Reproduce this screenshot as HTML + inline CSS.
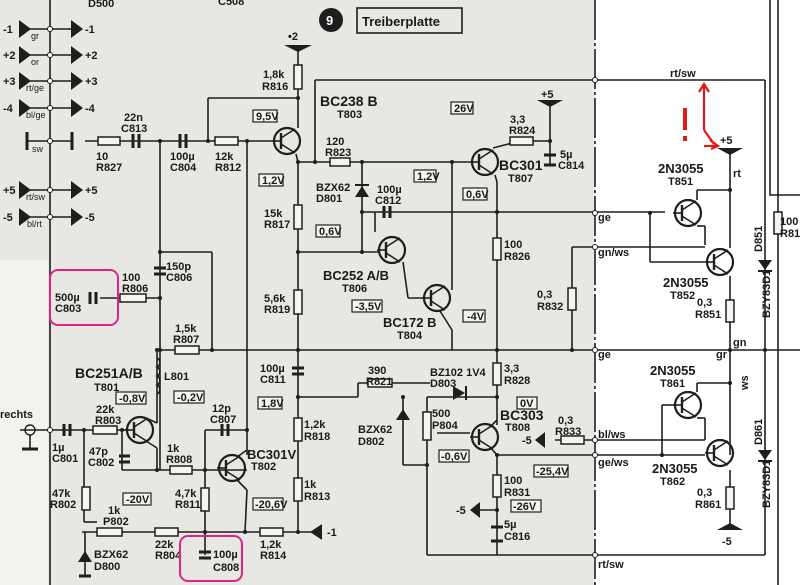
<!DOCTYPE html>
<html><head><meta charset="utf-8"><style>
html,body{margin:0;padding:0;background:#fff}
svg{display:block}
text{font-family:"Liberation Sans",sans-serif;font-weight:bold;fill:#1a1a1a;font-size:11px}
.s{font-size:9px;font-weight:normal}
.w{stroke:#1e1e1e;stroke-width:1.6;fill:none}
.r{stroke:#1e1e1e;stroke-width:1.5;fill:#f4f4f0}
.b{stroke:#1e1e1e;stroke-width:1.2;fill:#f4f4f0}
</style></head><body>
<svg width="800" height="585" viewBox="0 0 800 585">
<defs>
<g id="tr"><circle r="13" fill="none" stroke="#1e1e1e" stroke-width="2.2"/><line x1="-6" y1="-8" x2="-6" y2="8" stroke="#1e1e1e" stroke-width="2.4"/><line x1="-15" y1="0" x2="-6" y2="0" stroke="#1e1e1e" stroke-width="1.6"/><line x1="-6" y1="-3" x2="8" y2="-12" stroke="#1e1e1e" stroke-width="1.6"/><line x1="-6" y1="3" x2="8" y2="12" stroke="#1e1e1e" stroke-width="1.6"/></g>
<g id="arL"><polygon points="0,-9 0,9 12,0" fill="#1e1e1e"/></g>
</defs>
<rect width="800" height="585" fill="#fff"/>
<rect x="0" y="0" width="595" height="585" fill="#e7e7e3"/>
<rect x="0" y="260" width="48" height="325" fill="#f2f2ef"/>
<line x1="595" y1="0" x2="595" y2="585" stroke="#1e1e1e" stroke-width="1.6" stroke-dasharray="40 3 3 3"/>
<line x1="778" y1="0" x2="778" y2="585" class="w"/>
<polyline points="770,0 770,195 800,195" class="w"/>
<line x1="50" y1="0" x2="50" y2="585" class="w"/>
<g class="w">
<line x1="30" y1="29" x2="72" y2="29"/><line x1="30" y1="55" x2="72" y2="55"/><line x1="30" y1="81" x2="72" y2="81"/><line x1="30" y1="108" x2="72" y2="108"/>
<line x1="30" y1="190" x2="72" y2="190"/><line x1="30" y1="217" x2="72" y2="217"/>
<line x1="27" y1="141" x2="72" y2="141"/>
</g>
<use href="#arL" x="19" y="29"/><use href="#arL" x="19" y="55"/><use href="#arL" x="19" y="81"/><use href="#arL" x="19" y="108"/><use href="#arL" x="19" y="190"/><use href="#arL" x="19" y="217"/>
<use href="#arL" x="71" y="29"/><use href="#arL" x="71" y="55"/><use href="#arL" x="71" y="81"/><use href="#arL" x="71" y="108"/><use href="#arL" x="71" y="190"/><use href="#arL" x="71" y="217"/>
<line x1="27" y1="132" x2="27" y2="150" stroke="#1e1e1e" stroke-width="3"/><line x1="72" y1="132" x2="72" y2="150" stroke="#1e1e1e" stroke-width="3"/>
<text x="3" y="33">-1</text><text x="85" y="33">-1</text><text x="3" y="59">+2</text><text x="85" y="59">+2</text><text x="3" y="85">+3</text><text x="85" y="85">+3</text><text x="3" y="112">-4</text><text x="85" y="112">-4</text><text x="3" y="194">+5</text><text x="85" y="194">+5</text><text x="3" y="221">-5</text><text x="85" y="221">-5</text>
<text class="s" x="31" y="39">gr</text><text class="s" x="31" y="65">or</text><text class="s" x="26" y="91">rt/ge</text><text class="s" x="26" y="118">bl/ge</text><text class="s" x="32" y="152">sw</text><text class="s" x="26" y="200">rt/sw</text><text class="s" x="27" y="227">bl/rt</text>
<circle cx="331" cy="20" r="12" fill="#1e1e1e"/><text x="326" y="25" style="fill:#fff;font-size:13px">9</text>
<rect x="357" y="8" width="105" height="25" fill="none" stroke="#1e1e1e" stroke-width="1.6"/><text x="362" y="26" style="font-size:13px">Treiberplatte</text>
<text x="88" y="7">D500</text><text x="218" y="5">C508</text>
<g class="w">
<line x1="85" y1="141" x2="272" y2="141"/>
<line x1="208" y1="141" x2="208" y2="98"/><line x1="208" y1="98" x2="298" y2="98"/>
<line x1="298" y1="45" x2="298" y2="128"/>
<line x1="247" y1="141" x2="247" y2="455"/>
<line x1="160" y1="141" x2="160" y2="470"/>
<line x1="160" y1="252" x2="212" y2="252"/><line x1="212" y1="252" x2="212" y2="350"/>
<line x1="160" y1="350" x2="800" y2="350"/>
<line x1="296" y1="154" x2="298" y2="162"/>
<line x1="298" y1="162" x2="298" y2="532"/>
<line x1="298" y1="162" x2="470" y2="162"/>
<line x1="315" y1="80" x2="315" y2="162"/><line x1="315" y1="80" x2="765" y2="80"/><line x1="765" y1="80" x2="765" y2="555"/>
<line x1="362" y1="162" x2="362" y2="252"/>
<line x1="298" y1="252" x2="380" y2="252"/>
<line x1="362" y1="212" x2="665" y2="212"/>
<line x1="375" y1="212" x2="375" y2="232"/>
<line x1="452" y1="162" x2="452" y2="290"/>
<line x1="495" y1="175" x2="497" y2="182"/><line x1="497" y1="182" x2="497" y2="425"/>
<line x1="493" y1="148" x2="520" y2="141"/><line x1="520" y1="141" x2="550" y2="141"/><line x1="550" y1="100" x2="550" y2="165"/>
<line x1="403" y1="262" x2="408" y2="298"/><line x1="408" y1="298" x2="425" y2="298"/>
<line x1="440" y1="311" x2="452" y2="330"/><line x1="452" y1="330" x2="452" y2="350"/>
<line x1="572" y1="247" x2="705" y2="247"/><line x1="572" y1="247" x2="572" y2="350"/>
<line x1="650" y1="213" x2="650" y2="262"/><line x1="650" y1="262" x2="705" y2="262"/>
<line x1="697" y1="200" x2="697" y2="190"/><line x1="697" y1="190" x2="730" y2="190"/>
<line x1="697" y1="226" x2="705" y2="226"/><line x1="705" y1="226" x2="705" y2="245"/>
<line x1="730" y1="148" x2="730" y2="248"/><line x1="730" y1="276" x2="730" y2="455"/><line x1="730" y1="470" x2="730" y2="530"/>
<line x1="697" y1="392" x2="697" y2="383"/><line x1="697" y1="383" x2="730" y2="383"/>
<line x1="697" y1="418" x2="705" y2="418"/><line x1="705" y1="418" x2="705" y2="440"/>
<line x1="595" y1="440" x2="705" y2="440"/>
<line x1="595" y1="455" x2="705" y2="455"/><line x1="662" y1="405" x2="662" y2="455"/><line x1="662" y1="405" x2="675" y2="405"/>
<line x1="298" y1="397" x2="358" y2="397"/><line x1="358" y1="397" x2="358" y2="383"/>
<line x1="358" y1="383" x2="430" y2="383"/>
<line x1="403" y1="397" x2="403" y2="465"/><line x1="403" y1="465" x2="427" y2="465"/>
<line x1="427" y1="397" x2="427" y2="555"/>
<line x1="427" y1="397" x2="497" y2="397"/>
<line x1="437" y1="433" x2="470" y2="433"/>
<line x1="490" y1="427" x2="497" y2="420"/>
<line x1="490" y1="447" x2="497" y2="455"/><line x1="497" y1="455" x2="595" y2="455"/>
<line x1="497" y1="455" x2="497" y2="555"/>
<line x1="480" y1="510" x2="497" y2="510"/>
<line x1="555" y1="440" x2="595" y2="440"/>
<line x1="427" y1="555" x2="765" y2="555"/>
<line x1="20" y1="430" x2="128" y2="430"/>
<line x1="84" y1="430" x2="84" y2="522"/><line x1="84" y1="522" x2="97" y2="522"/>
<line x1="122" y1="430" x2="122" y2="470"/><line x1="122" y1="470" x2="247" y2="470"/>
<line x1="157" y1="350" x2="157" y2="423"/><line x1="146" y1="418" x2="157" y2="423"/>
<line x1="146" y1="441" x2="157" y2="448"/><line x1="157" y1="448" x2="157" y2="470"/>
<line x1="205" y1="430" x2="205" y2="555"/><line x1="205" y1="430" x2="247" y2="430"/>
<line x1="237" y1="457" x2="247" y2="450"/>
<line x1="237" y1="480" x2="247" y2="490"/><line x1="247" y1="490" x2="245" y2="532"/>
<line x1="82" y1="532" x2="318" y2="532"/><line x1="85" y1="532" x2="85" y2="575"/>
<line x1="100" y1="298" x2="160" y2="298"/>
</g>
<polygon points="284,45 312,45 298,52" fill="#1e1e1e"/><text x="288" y="40">•2</text>
<polygon points="537,100 563,100 550,107" fill="#1e1e1e"/><text x="541" y="98">+5</text>
<polygon points="717,148 743,148 730,155" fill="#1e1e1e"/><text x="720" y="144">+5</text>
<polygon points="717,530 743,530 730,523" fill="#1e1e1e"/><text x="722" y="545">-5</text>
<polygon points="322,524 322,540 310,532" fill="#1e1e1e"/><text x="327" y="536">-1</text>
<polygon points="480,502 480,518 470,510" fill="#1e1e1e"/><text x="456" y="514">-5</text>
<polygon points="545,432 545,448 535,440" fill="#1e1e1e"/><text x="522" y="444">-5</text>
<rect class="r" x="98" y="137" width="22" height="8"/>
<rect class="r" x="215" y="137" width="23" height="8"/>
<rect class="r" x="294" y="65" width="8" height="24"/>
<rect class="r" x="330" y="158" width="20" height="8"/>
<rect class="r" x="294" y="205" width="8" height="24"/>
<rect class="r" x="294" y="290" width="8" height="24"/>
<rect class="r" x="294" y="418" width="8" height="23"/>
<rect class="r" x="294" y="478" width="8" height="23"/>
<rect class="r" x="120" y="294" width="26" height="8"/>
<rect class="r" x="175" y="346" width="24" height="8"/>
<rect class="r" x="93" y="426" width="24" height="8"/>
<rect class="r" x="170" y="466" width="22" height="8"/>
<rect class="r" x="201" y="488" width="8" height="23"/>
<rect class="r" x="82" y="487" width="8" height="23"/>
<rect class="r" x="155" y="528" width="23" height="8"/>
<rect class="r" x="260" y="528" width="23" height="8"/>
<rect class="r" x="97" y="528" width="25" height="8"/>
<rect class="r" x="493" y="238" width="8" height="22"/>
<rect class="r" x="568" y="288" width="8" height="22"/>
<rect class="r" x="493" y="363" width="8" height="22"/>
<rect class="r" x="493" y="475" width="8" height="22"/>
<rect class="r" x="368" y="379" width="24" height="8"/>
<rect class="r" x="423" y="412" width="8" height="28"/>
<rect class="r" x="510" y="137" width="23" height="8"/>
<rect class="r" x="561" y="436" width="23" height="8"/>
<rect class="r" x="726" y="300" width="8" height="22"/>
<rect class="r" x="726" y="487" width="8" height="22"/>
<rect class="r" x="774" y="212" width="8" height="22"/>
<g stroke="#1e1e1e" stroke-width="3">
<line x1="133" y1="134" x2="133" y2="148"/><line x1="139" y1="134" x2="139" y2="148"/>
<line x1="180" y1="134" x2="180" y2="148"/><line x1="186" y1="134" x2="186" y2="148"/>
<line x1="154" y1="268" x2="166" y2="268"/><line x1="154" y1="274" x2="166" y2="274"/>
<line x1="90" y1="292" x2="90" y2="304"/><line x1="96" y1="292" x2="96" y2="304"/>
<line x1="292" y1="368" x2="304" y2="368"/><line x1="292" y1="374" x2="304" y2="374"/>
<line x1="384" y1="206" x2="384" y2="218"/><line x1="390" y1="206" x2="390" y2="218"/>
<line x1="544" y1="155" x2="556" y2="155"/><line x1="544" y1="165" x2="556" y2="165"/>
<line x1="64" y1="424" x2="64" y2="436"/><line x1="70" y1="424" x2="70" y2="436"/>
<line x1="119" y1="456" x2="130" y2="456"/><line x1="119" y1="462" x2="130" y2="462"/>
<line x1="222" y1="424" x2="222" y2="436"/><line x1="228" y1="424" x2="228" y2="436"/>
<line x1="199" y1="552" x2="211" y2="552"/><line x1="199" y1="558" x2="211" y2="558"/>
<line x1="491" y1="527" x2="503" y2="527"/><line x1="491" y1="541" x2="503" y2="541"/>
<line x1="79" y1="576" x2="91" y2="576"/>
</g>
<polygon points="355,197 369,197 362,186" fill="#1e1e1e"/><line x1="355" y1="185" x2="369" y2="185" stroke="#1e1e1e" stroke-width="2"/>
<polygon points="453,386 453,400 465,393" fill="#1e1e1e"/><line x1="466" y1="386" x2="466" y2="400" stroke="#1e1e1e" stroke-width="2"/>
<polygon points="396,420 410,420 403,409" fill="#1e1e1e"/>
<polygon points="78,562 92,562 85,551" fill="#1e1e1e"/>
<polygon points="758,260 772,260 765,270" fill="#1e1e1e"/><line x1="758" y1="271" x2="772" y2="271" stroke="#1e1e1e" stroke-width="2"/>
<polygon points="758,450 772,450 765,460" fill="#1e1e1e"/><line x1="758" y1="461" x2="772" y2="461" stroke="#1e1e1e" stroke-width="2"/>
<path d="M157,358 a5,5 0 0 1 0,9 a5,5 0 0 1 0,9 a5,5 0 0 1 0,9 a5,5 0 0 1 0,9" class="w" stroke-width="1.8"/>
<use href="#tr" x="287" y="141"/>
<use href="#tr" x="485" y="162"/>
<use href="#tr" x="392" y="250"/>
<use href="#tr" x="437" y="298"/>
<use href="#tr" x="140" y="430"/>
<use href="#tr" x="232" y="468"/>
<use href="#tr" x="485" y="437"/>
<use href="#tr" x="688" y="213"/>
<use href="#tr" x="720" y="262"/>
<use href="#tr" x="688" y="405"/>
<use href="#tr" x="720" y="453"/>
<circle cx="30" cy="430" r="5" fill="none" stroke="#1e1e1e" stroke-width="1.4"/><line x1="30" y1="435" x2="30" y2="448" class="w"/><line x1="22" y1="449" x2="38" y2="449" stroke="#1e1e1e" stroke-width="3"/>
<g class="b">
<rect x="253" y="110" width="24" height="12"/><rect x="259" y="174" width="24" height="12"/>
<rect x="451" y="102" width="22" height="12"/><rect x="414" y="170" width="22" height="12"/><rect x="463" y="188" width="24" height="12"/>
<rect x="316" y="225" width="24" height="12"/><rect x="352" y="300" width="30" height="12"/><rect x="463" y="310" width="22" height="12"/>
<rect x="116" y="392" width="30" height="12"/><rect x="174" y="391" width="30" height="12"/><rect x="258" y="397" width="24" height="12"/>
<rect x="123" y="493" width="28" height="12"/><rect x="253" y="498" width="30" height="12"/>
<rect x="517" y="397" width="20" height="12"/><rect x="439" y="450" width="30" height="12"/><rect x="534" y="465" width="34" height="12"/><rect x="511" y="500" width="30" height="12"/>
</g>
<g style="font-size:10px">
<text x="256" y="120">9,5V</text><text x="262" y="184">1,2V</text><text x="454" y="112">26V</text><text x="417" y="180">1,2V</text><text x="466" y="198">0,6V</text>
<text x="319" y="235">0,6V</text><text x="355" y="310">-3,5V</text><text x="467" y="320">-4V</text>
<text x="119" y="402">-0,8V</text><text x="177" y="401">-0,2V</text><text x="261" y="407">1,8V</text>
<text x="126" y="503">-20V</text><text x="255" y="508">-20,6V</text>
<text x="520" y="407">0V</text><text x="441" y="460">-0,6V</text><text x="536" y="475">-25,4V</text><text x="513" y="510">-26V</text>
</g>
<text x="96" y="160">10</text><text x="96" y="171">R827</text>
<text x="124" y="121">22n</text><text x="121" y="132">C813</text>
<text x="170" y="160">100µ</text><text x="170" y="171">C804</text>
<text x="215" y="160">12k</text><text x="215" y="171">R812</text>
<text x="263" y="78">1,8k</text><text x="262" y="90">R816</text>
<text x="320" y="106" style="font-size:14px">BC238 B</text><text x="337" y="118">T803</text>
<text x="326" y="145">120</text><text x="325" y="156">R823</text>
<text x="316" y="191">BZX62</text><text x="316" y="202">D801</text>
<text x="377" y="193">100µ</text><text x="375" y="204">C812</text>
<text x="264" y="217">15k</text><text x="264" y="228">R817</text>
<text x="264" y="302">5,6k</text><text x="264" y="313">R819</text>
<text x="323" y="280" style="font-size:13px">BC252 A/B</text><text x="342" y="292">T806</text>
<text x="383" y="327" style="font-size:13px">BC172 B</text><text x="397" y="339">T804</text>
<text x="510" y="123">3,3</text><text x="509" y="134">R824</text>
<text x="499" y="170" style="font-size:14px">BC301</text><text x="508" y="182">T807</text>
<text x="560" y="158">5µ</text><text x="558" y="169">C814</text>
<text x="504" y="248">100</text><text x="504" y="260">R826</text>
<text x="537" y="298">0,3</text><text x="537" y="310">R832</text>
<text x="166" y="270">150p</text><text x="166" y="281">C806</text>
<text x="122" y="281">100</text><text x="122" y="292">R806</text>
<text x="55" y="301">500µ</text><text x="55" y="312">C803</text>
<text x="175" y="332">1,5k</text><text x="173" y="343">R807</text>
<text x="75" y="378" style="font-size:14px">BC251A/B</text><text x="94" y="391">T801</text>
<text x="164" y="380">L801</text>
<text x="260" y="372">100µ</text><text x="260" y="383">C811</text>
<text x="0" y="418">rechts</text>
<text x="52" y="451">1µ</text><text x="52" y="462">C801</text>
<text x="96" y="413">22k</text><text x="95" y="424">R803</text>
<text x="89" y="455">47p</text><text x="88" y="466">C802</text>
<text x="167" y="452">1k</text><text x="166" y="463">R808</text>
<text x="212" y="412">12p</text><text x="210" y="423">C807</text>
<text x="247" y="459" style="font-size:13px">BC301V</text><text x="251" y="470">T802</text>
<text x="175" y="497">4,7k</text><text x="175" y="508">R811</text>
<text x="52" y="497">47k</text><text x="50" y="508">R802</text>
<text x="108" y="514">1k</text><text x="103" y="525">P802</text>
<text x="94" y="558">BZX62</text><text x="94" y="570">D800</text>
<text x="155" y="548">22k</text><text x="155" y="559">R804</text>
<text x="213" y="558">100µ</text><text x="213" y="571">C808</text>
<text x="260" y="548">1,2k</text><text x="260" y="559">R814</text>
<text x="304" y="428">1,2k</text><text x="304" y="440">R818</text>
<text x="304" y="488">1k</text><text x="304" y="500">R813</text>
<text x="368" y="374">390</text><text x="366" y="385">R821</text>
<text x="430" y="376">BZ102 1V4</text><text x="430" y="387">D803</text>
<text x="358" y="433">BZX62</text><text x="358" y="445">D802</text>
<text x="432" y="417">500</text><text x="432" y="429">P804</text>
<text x="500" y="420" style="font-size:14px">BC303</text><text x="505" y="431">T808</text>
<text x="504" y="372">3,3</text><text x="504" y="384">R828</text>
<text x="504" y="484">100</text><text x="504" y="496">R831</text>
<text x="504" y="528">5µ</text><text x="504" y="540">C816</text>
<text x="558" y="424">0,3</text><text x="555" y="435">R833</text>
<text x="658" y="173" style="font-size:13px">2N3055</text><text x="668" y="185">T851</text>
<text x="663" y="287" style="font-size:13px">2N3055</text><text x="670" y="299">T852</text>
<text x="697" y="306">0,3</text><text x="695" y="318">R851</text>
<text x="650" y="375" style="font-size:13px">2N3055</text><text x="660" y="387">T861</text>
<text x="652" y="473" style="font-size:13px">2N3055</text><text x="660" y="485">T862</text>
<text x="697" y="496">0,3</text><text x="695" y="508">R861</text>
<text x="780" y="225">100</text><text x="780" y="237">R81</text>
<g class="s"><text x="670" y="77">rt/sw</text><text x="733" y="177">rt</text><text x="598" y="221">ge</text><text x="598" y="256">gn/ws</text>
<text x="598" y="358">ge</text><text x="716" y="358">gr</text><text x="733" y="346">gn</text><text x="598" y="438">bl/ws</text><text x="598" y="466">ge/ws</text><text x="598" y="568">rt/sw</text>
<text x="748" y="390" transform="rotate(-90 748 390)">ws</text></g>
<text x="762" y="252" transform="rotate(-90 762 252)">D851</text>
<text x="770" y="318" transform="rotate(-90 770 318)">BZY83D1</text>
<text x="762" y="445" transform="rotate(-90 762 445)">D861</text>
<text x="770" y="508" transform="rotate(-90 770 508)">BZY83D1</text>
<g fill="#1e1e1e">
<circle cx="160" cy="141" r="2"/><circle cx="208" cy="141" r="2"/><circle cx="247" cy="141" r="2"/><circle cx="298" cy="98" r="2"/><circle cx="298" cy="162" r="2"/><circle cx="315" cy="162" r="2"/><circle cx="362" cy="162" r="2"/><circle cx="452" cy="162" r="2"/><circle cx="362" cy="212" r="2"/><circle cx="362" cy="252" r="2"/><circle cx="298" cy="252" r="2"/><circle cx="497" cy="212" r="2"/><circle cx="160" cy="252" r="2"/><circle cx="160" cy="298" r="2"/><circle cx="212" cy="350" r="2"/><circle cx="298" cy="350" r="2"/><circle cx="160" cy="350" r="2"/><circle cx="497" cy="350" r="2"/><circle cx="572" cy="350" r="2"/><circle cx="730" cy="350" r="2"/><circle cx="765" cy="350" r="2"/><circle cx="550" cy="141" r="2"/><circle cx="650" cy="213" r="2"/><circle cx="730" cy="190" r="2"/><circle cx="730" cy="383" r="2"/><circle cx="662" cy="455" r="2"/><circle cx="298" cy="397" r="2"/><circle cx="403" cy="397" r="2"/><circle cx="497" cy="397" r="2"/><circle cx="427" cy="465" r="2"/><circle cx="497" cy="455" r="2"/><circle cx="497" cy="510" r="2"/><circle cx="84" cy="430" r="2"/><circle cx="122" cy="430" r="2"/><circle cx="157" cy="470" r="2"/><circle cx="205" cy="470" r="2"/><circle cx="247" cy="430" r="2"/><circle cx="205" cy="532" r="2"/><circle cx="245" cy="532" r="2"/><circle cx="298" cy="532" r="2"/><circle cx="157" cy="350" r="2"/>
</g>
<g fill="#fff" stroke="#1e1e1e" stroke-width="1"><circle cx="50" cy="29" r="2.5"/><circle cx="50" cy="55" r="2.5"/><circle cx="50" cy="81" r="2.5"/><circle cx="50" cy="108" r="2.5"/><circle cx="50" cy="141" r="2.5"/><circle cx="50" cy="190" r="2.5"/><circle cx="50" cy="217" r="2.5"/><circle cx="50" cy="430" r="2.5"/><circle cx="595" cy="80" r="2.5"/><circle cx="595" cy="213" r="2.5"/><circle cx="595" cy="247" r="2.5"/><circle cx="595" cy="350" r="2.5"/><circle cx="595" cy="440" r="2.5"/><circle cx="595" cy="455" r="2.5"/><circle cx="595" cy="555" r="2.5"/></g>
<rect x="50" y="270" width="68" height="55" rx="8" fill="none" stroke="#e0238a" stroke-width="2"/>
<rect x="180" y="536" width="62" height="45" rx="8" fill="none" stroke="#e0238a" stroke-width="2"/>
<g stroke="#e01818" stroke-width="2.2" fill="none"><line x1="704" y1="85" x2="704" y2="130"/><polyline points="699,92 704,84 709,92"/><line x1="704" y1="130" x2="714" y2="144"/><line x1="704" y1="146" x2="718" y2="146"/><polyline points="710,140 718,146 711,149"/></g>
<rect x="683" y="108" width="4" height="22" fill="#e01818"/><rect x="683" y="136" width="4" height="5" fill="#e01818"/>
</svg>
</body></html>
